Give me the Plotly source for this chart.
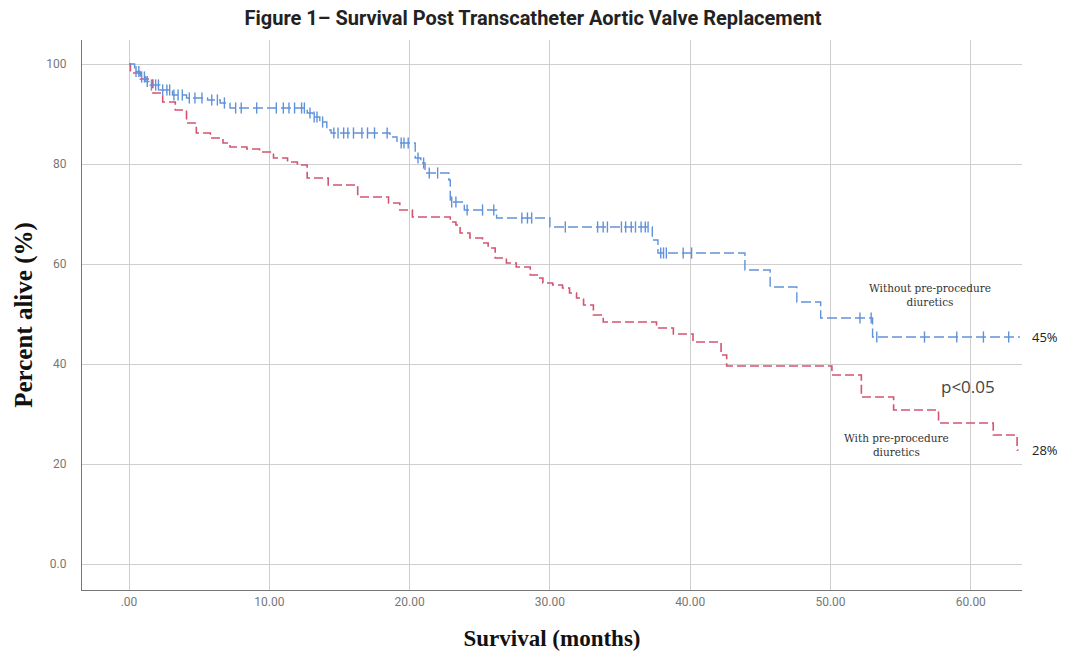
import numpy as np
import plotly.graph_objects as go

# Kaplan-Meier step points: time (months) and percent alive after each drop
blue_t = [0, 0.4, 0.8, 1.2, 1.5, 2.2, 3.1, 4.1, 5.6, 6.5, 7.2, 12.7, 13.1, 13.6,
          14.1, 14.4, 18.6, 19.1, 20.4, 20.8, 21.1, 22.8, 22.9, 23.9, 26.2, 30.0,
          37.3, 37.7, 43.9, 45.7, 47.6, 49.3, 53.0, 63.5]
blue_s = [100, 98.5, 97.4, 96.5, 95.8, 94.8, 93.8, 93.2, 92.8, 92.2, 91.2, 90.2,
          89.4, 88.4, 86.8, 86.2, 85.4, 84.2, 81.2, 80.2, 78.2, 76.8, 72.4, 70.8,
          69.2, 67.4, 64.8, 62.2, 58.8, 55.4, 52.4, 49.2, 45.4, 45.4]

red_t = [0, 0.1, 0.8, 1.7, 2.4, 3.3, 4.1, 4.8, 5.8, 6.7, 7.2, 8.4, 9.3, 10.3,
         11.3, 12.0, 12.7, 14.2, 16.3, 18.5, 19.3, 20.2, 22.9, 23.3, 23.6, 24.3,
         25.2, 25.6, 26.1, 26.9, 27.6, 28.6, 29.1, 29.5, 30.2, 30.9, 31.4, 31.9,
         32.4, 33.1, 33.8, 37.6, 38.8, 40.2, 42.2, 42.6, 50.1, 52.2, 54.5, 57.7,
         61.6, 63.3, 63.4]
red_s = [100, 98.2, 97.0, 94.2, 92.4, 90.8, 88.2, 86.2, 85.2, 84.2, 83.4, 83.0,
         82.4, 81.2, 80.4, 79.8, 77.2, 75.8, 73.4, 72.2, 70.8, 69.4, 68.4, 67.8,
         66.2, 65.2, 64.2, 63.2, 61.2, 60.2, 59.4, 57.8, 57.2, 56.2, 55.8, 55.2,
         54.2, 53.2, 51.8, 49.8, 48.4, 47.2, 46.0, 44.4, 41.8, 39.6, 37.8, 33.4,
         30.8, 28.2, 25.8, 22.8, 22.8]

# censored observations in the group without diuretics
blue_censor_t = [0.5, 0.7, 0.9, 1.1, 1.3, 1.6, 1.9, 2.1, 2.4, 2.7, 2.9, 3.2, 3.5,
                 3.8, 4.3, 4.7, 5.2, 5.9, 6.3, 6.8, 7.6, 8.0, 9.1, 10.5, 11.0,
                 11.4, 11.8, 12.3, 12.5, 12.9, 13.2, 13.4, 13.8, 14.6, 14.9, 15.3,
                 15.6, 16.0, 16.6, 17.0, 17.5, 18.4, 19.4, 19.6, 19.9, 20.6, 21.0,
                 21.4, 22.0, 23.0, 23.3, 24.1, 25.2, 26.0, 28.0, 28.4, 28.7, 31.1,
                 33.4, 33.8, 34.1, 35.1, 35.4, 35.8, 36.1, 36.5, 36.8, 37.0, 37.9,
                 38.1, 38.3, 39.5, 40.1, 52.1, 52.9, 53.3, 56.7, 59.0, 60.9, 62.7]

x_tickvals = [0, 10, 20, 30, 40, 50, 60]
x_ticktext = [".00", "10.00", "20.00", "30.00", "40.00", "50.00", "60.00"]
y_tickvals = [0, 20, 40, 60, 80, 100]
y_ticktext = ["0.0", "20", "40", "60", "80", "100"]

BLUE = "rgb(96,146,218)"
RED = "rgb(212,84,114)"


def step_value(times, values, t):
    idx = np.searchsorted(np.asarray(times), t, side="right") - 1
    return np.asarray(values)[idx]


blue_censor_s = [float(step_value(blue_t, blue_s, t)) for t in blue_censor_t]

fig = go.Figure()
fig.add_trace(go.Scatter(x=red_t, y=red_s, mode="lines", line_shape="hv",
                         line=dict(color=RED, width=1.6, dash="9px,4px"),
                         name="With pre-procedure diuretics"))
fig.add_trace(go.Scatter(x=blue_t, y=blue_s, mode="lines", line_shape="hv",
                         line=dict(color=BLUE, width=1.4, dash="10px,4px"),
                         name="Without pre-procedure diuretics"))
fig.add_trace(go.Scatter(x=blue_censor_t, y=blue_censor_s, mode="markers",
                         marker=dict(symbol="line-ns-open", size=8, color=BLUE,
                                     line=dict(color=BLUE, width=1.4)),
                         name="Censored"))

fig.update_layout(
    width=1066, height=659,
    margin=dict(l=82, r=44, t=40, b=69),
    plot_bgcolor="white", paper_bgcolor="white",
    showlegend=False,
    title=dict(text="Figure 1\u2013 Survival Post Transcatheter Aortic Valve Replacement",
               x=0.5, xanchor="center", y=0.973, yanchor="middle",
               font=dict(family="Roboto", size=20, color="#222", weight="bold")),
    xaxis=dict(range=[-3.35, 63.65], tickvals=x_tickvals, ticktext=x_ticktext,
               showgrid=True, gridcolor="#cfcfcf", gridwidth=1, zeroline=False,
               showline=True, linecolor="#777", linewidth=1.2, ticks="",
               tickfont=dict(family="Roboto", size=12, color="#777"),
               title=dict(text="Survival (months)", standoff=22,
                          font=dict(family="Liberation Serif", size=23,
                                    color="#111", weight="bold"))),
    yaxis=dict(range=[-5.2, 104.8], tickvals=y_tickvals, ticktext=y_ticktext,
               showgrid=True, gridcolor="#cfcfcf", gridwidth=1, zeroline=False,
               showline=True, linecolor="#777", linewidth=1.2, ticks="",
               ticklabelstandoff=12,
               tickfont=dict(family="Roboto", size=12, color="#777"),
               title=dict(text="Percent alive (%)", standoff=6,
                          font=dict(family="Liberation Serif", size=25,
                                    color="#111", weight="bold"))),
)

fig.add_annotation(x=57.1, y=53.8, text="Without pre-procedure<br>diuretics",
                   showarrow=False, font=dict(family="DejaVu Serif", size=10.5, color="#333"))
fig.add_annotation(x=54.7, y=23.8, text="With pre-procedure<br>diuretics",
                   showarrow=False, font=dict(family="DejaVu Serif", size=10.5, color="#333"))
fig.add_annotation(x=59.8, y=35.6, text="p&lt;0.05", showarrow=False,
                   font=dict(family="Open Sans", size=17, color="#444"))
fig.add_annotation(xref="paper", x=1.008, y=blue_s[-1], text="45%", showarrow=False,
                   xanchor="left", font=dict(family="Open Sans", size=13, color="#222"))
fig.add_annotation(xref="paper", x=1.008, y=red_s[-1], text="28%", showarrow=False,
                   xanchor="left", font=dict(family="Open Sans", size=13, color="#222"))

fig.write_html("out.html")
